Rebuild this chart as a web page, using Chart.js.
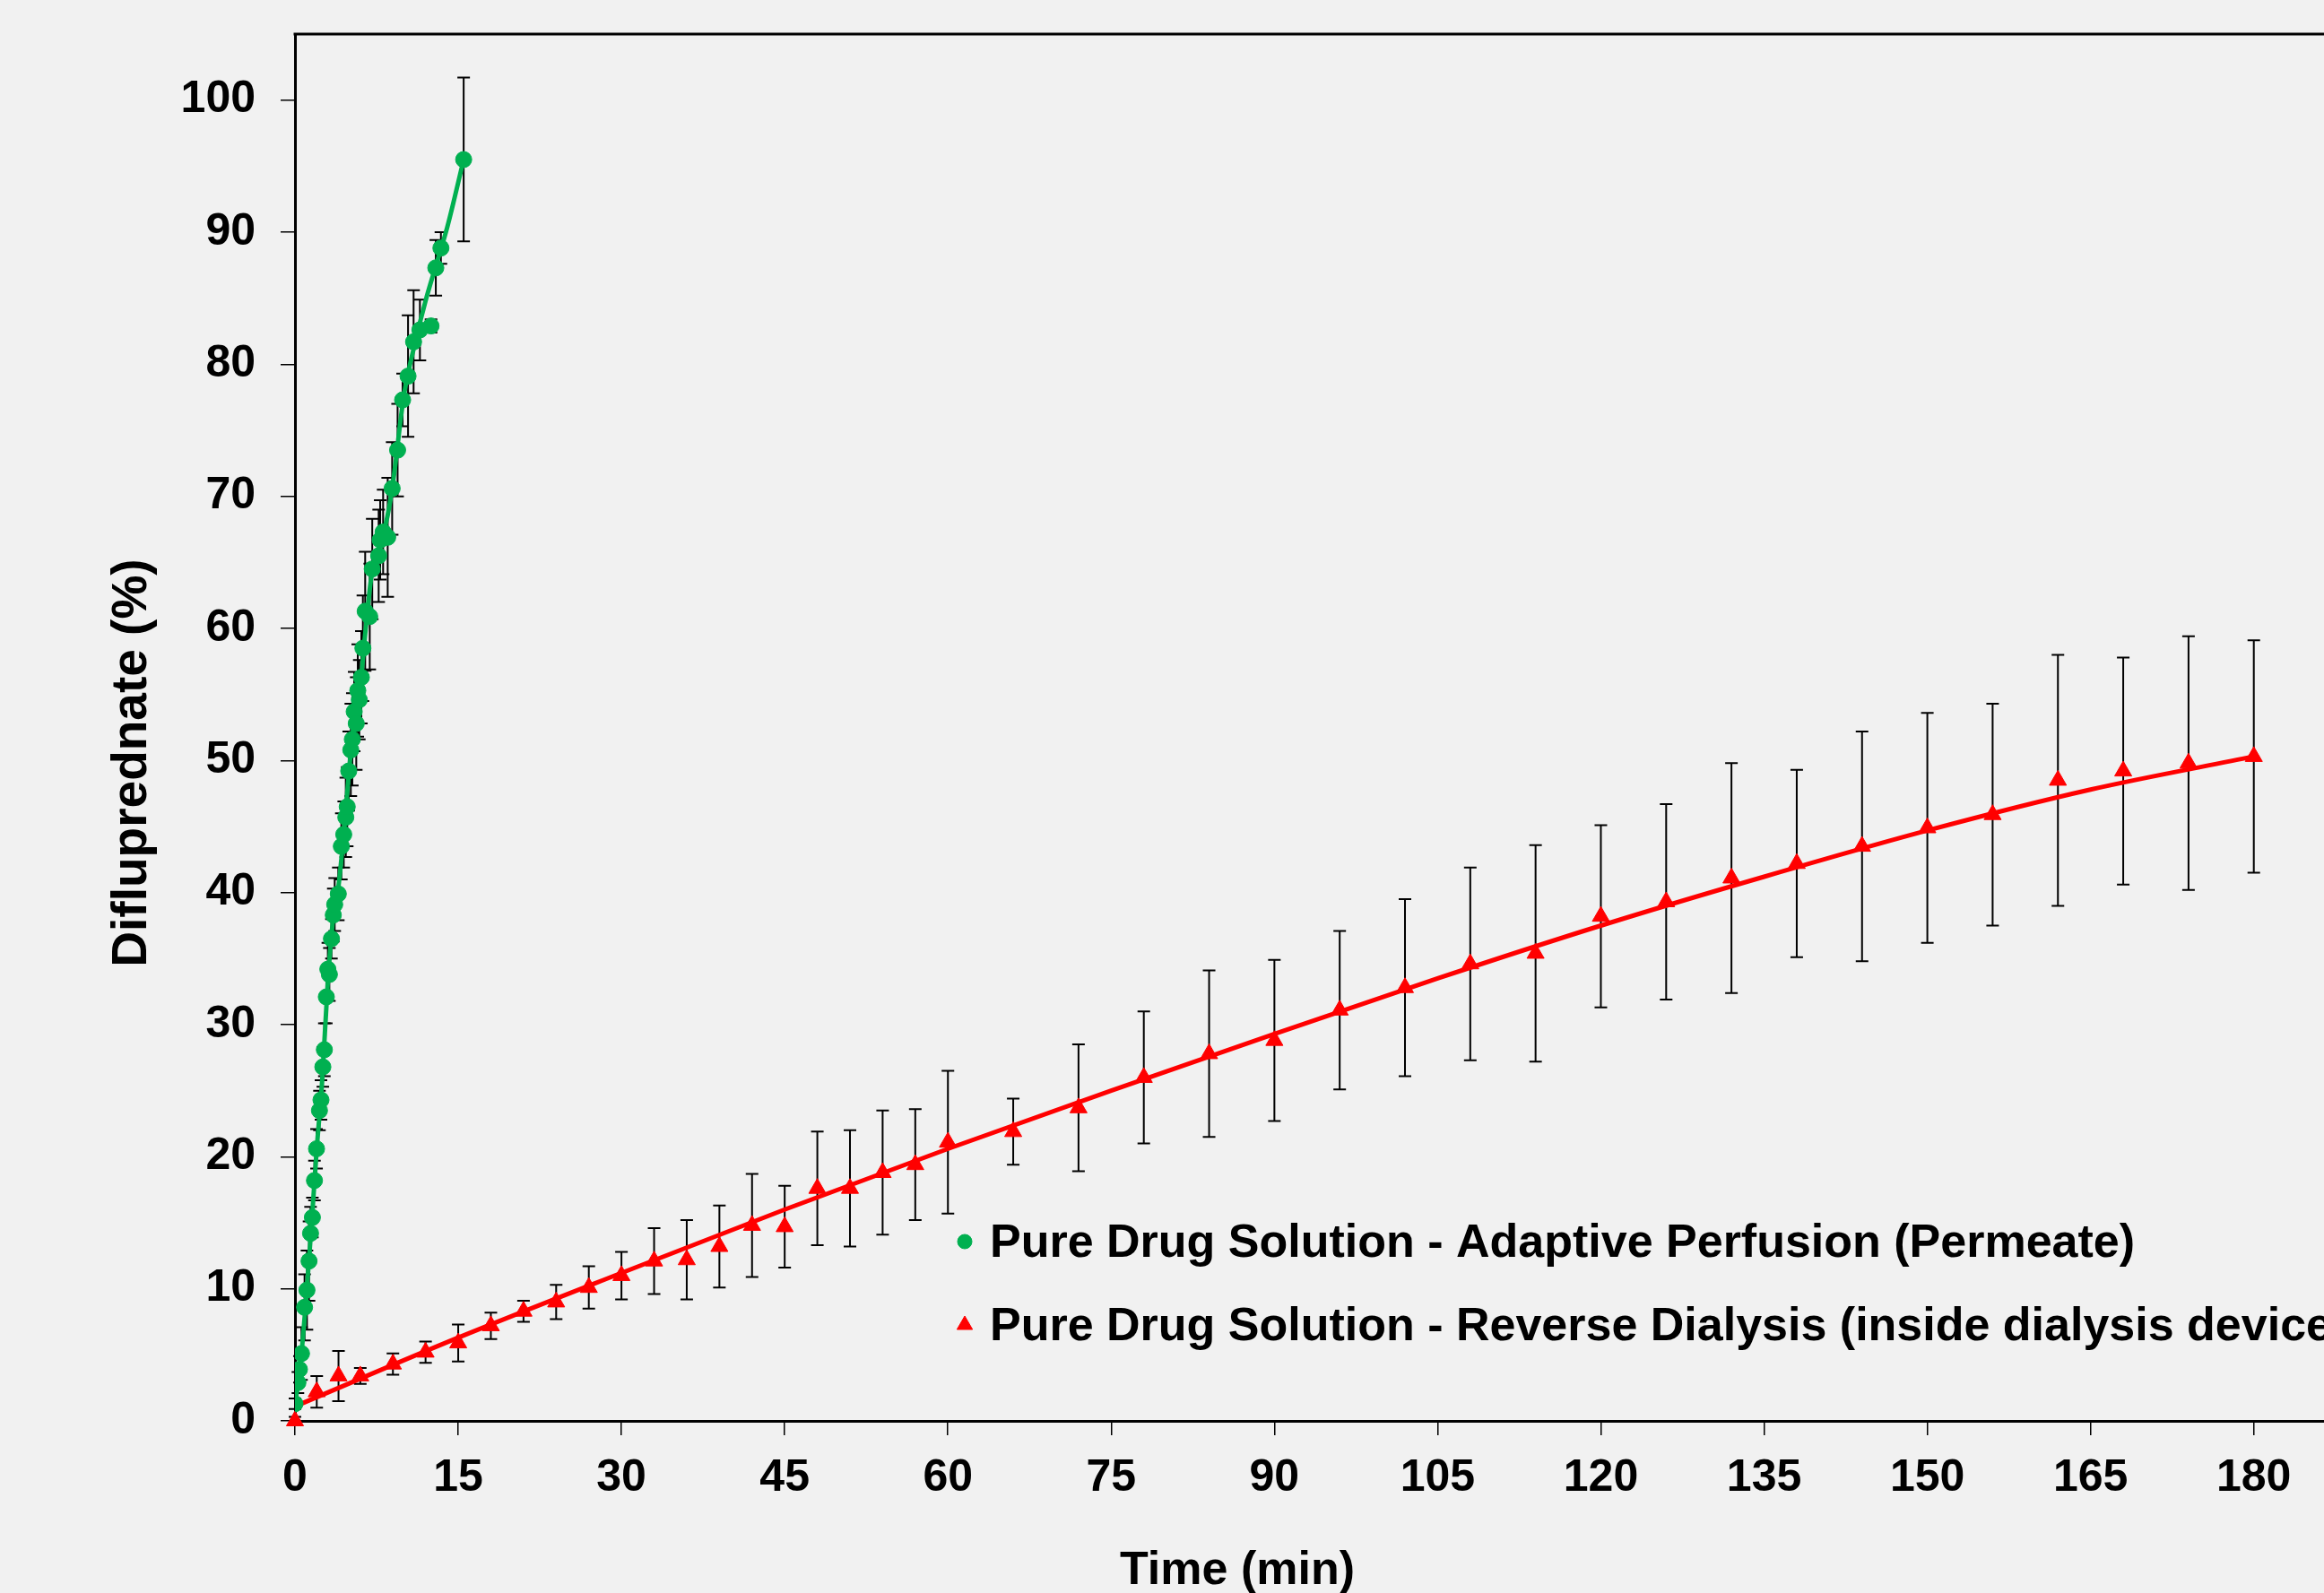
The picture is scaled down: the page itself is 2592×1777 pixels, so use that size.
<!DOCTYPE html>
<html>
<head>
<meta charset="utf-8">
<script src="https://cdn.jsdelivr.net/npm/chart.js@4.4.1/dist/chart.umd.min.js"></script>
<style>
  body { margin: 0; background: #f1f1f1; }
  canvas { display: block; }
</style>
</head>
<body>
<canvas id="releaseChart" width="2592" height="1777"></canvas>
<script>
// tick labels
const xTicks = [0, 15, 30, 45, 60, 75, 90, 105, 120, 135, 150, 165, 180];
const yTicks = [0, 10, 20, 30, 40, 50, 60, 70, 80, 90, 100];

// Adaptive Perfusion (Permeate) - measured points
const permeateTime = [0, 0.27, 0.41, 0.6, 0.88, 1.1, 1.29, 1.43, 1.6, 1.79, 1.98, 2.25, 2.39, 2.56, 2.7,
  2.88, 3.02, 3.16, 3.35, 3.52, 3.65, 3.98, 4.26, 4.48, 4.67, 4.8, 4.94, 5.13, 5.27, 5.44, 5.63,
  5.77, 5.91, 6.1, 6.24, 6.45, 6.87, 7.1, 7.69, 7.83, 8.1, 8.52, 8.93, 9.43, 9.89, 10.39, 10.9,
  11.48, 12.5, 12.94, 13.41, 15.5];
const permeateValue = [1.3, 2.9, 3.9, 5.1, 8.6, 9.9, 12.1, 14.2, 15.4, 18.2, 20.6, 23.5, 24.3, 26.8, 28.1,
  32.1, 34.2, 33.8, 36.5, 38.3, 39.1, 39.9, 43.5, 44.4, 45.7, 46.5, 49.2, 50.8, 51.6, 53.7, 52.8,
  55.3, 54.6, 56.3, 58.5, 61.3, 60.9, 64.5, 65.5, 66.7, 67.3, 66.9, 70.6, 73.5, 77.3, 79.1, 81.7,
  82.6, 82.9, 87.3, 88.8, 95.5];
const permeateSd = [0.4, 0.8, 1.0, 2.0, 2.5, 3.0, 3.0, 2.0, 1.5, 1.5, 1.5, 1.5, 1.5, 1.5, 2.0,
  2.0, 2.0, 2.0, 1.5, 2.0, 2.0, 2.0, 2.5, 2.5, 3.0, 3.0, 3.0, 3.5, 3.5, 3.0, 3.5,
  3.5, 3.0, 3.5, 4.0, 4.5, 4.0, 3.8, 3.5, 3.0, 3.2, 4.5, 3.5, 3.5, 2.0, 4.6, 3.9,
  2.3, 0.5, 2.1, 1.2, 6.2];

// smoothed line through the permeate points
const permeateCurveTime = [0, 0.5, 1, 1.5, 2, 2.5, 3, 3.5, 4, 4.5, 5, 5.5, 6, 6.5, 7, 7.5, 8, 8.5, 9, 10, 11, 12, 13, 14, 15.5];
const permeateCurveValue = [1.2, 4.3, 9.0, 14.6, 20.6, 25.8, 33.0, 38.0, 40.5, 44.6, 49.5, 53.5, 55.7, 60.0, 63.8, 65.6, 66.8, 68.5, 71.0, 77.6, 81.5, 84.8, 87.6, 90.4, 95.5];

// Reverse Dialysis (inside dialysis device) - measured points
const dialysisTime = [0, 2, 4, 6, 9, 12, 15, 18, 21, 24, 27, 30, 33, 36, 39, 42, 45, 48, 51, 54, 57, 60,
  66, 72, 78, 84, 90, 96, 102, 108, 114, 120, 126, 132, 138, 144, 150, 156, 162, 168, 174, 180];
const dialysisValue = [0, 2.2, 3.4, 3.4, 4.3, 5.2, 5.9, 7.2, 8.3, 9.0, 10.1, 11.0, 12.1, 12.2, 13.2, 14.8, 14.7, 17.6, 17.6, 18.8, 19.4, 21.1,
  21.9, 23.7, 26.0, 27.8, 28.8, 31.1, 32.8, 34.6, 35.4, 38.2, 39.3, 41.1, 42.2, 43.5, 44.9, 45.9, 48.5, 49.2, 49.8, 50.3];
const dialysisSd = [0.3, 1.2, 1.9, 0.6, 0.8, 0.8, 1.4, 1.0, 0.8, 1.3, 1.6, 1.8, 2.5, 3.0, 3.1, 3.9, 3.1, 4.3, 4.4, 4.7, 4.2, 5.4,
  2.5, 4.8, 5.0, 6.3, 6.1, 6.0, 6.7, 7.3, 8.2, 6.9, 7.4, 8.7, 7.1, 8.7, 8.7, 8.4, 9.5, 8.6, 9.6, 8.8];

// smoothed line through the dialysis points
const dialysisCurveTime = [0, 15, 30, 45, 60, 75, 90, 105, 120, 135, 150, 165, 180];
const dialysisCurveValue = [1.1, 6.3, 11.2, 16.0, 20.6, 25.0, 29.3, 33.5, 37.5, 41.2, 44.7, 47.8, 50.3];

const seriesLabels = [
  'Pure Drug Solution - Adaptive Perfusion (Permeate)',
  'Pure Drug Solution - Reverse Dialysis (inside dialysis device)'
];

const green = '#00B050';
const red = '#FF0000';
const fontFamily = '"Liberation Sans", Arial, sans-serif';

function toPoints(xs, ys) {
  return xs.map((x, i) => ({ x: x, y: ys[i] }));
}

// vertical error bars with caps, drawn under the markers
const errorBars = {
  id: 'errorBars',
  beforeDatasetsDraw(chart) {
    const ctx = chart.ctx;
    const xs = chart.scales.x;
    const ys = chart.scales.y;
    const sets = [
      [permeateTime, permeateValue, permeateSd],
      [dialysisTime, dialysisValue, dialysisSd]
    ];
    ctx.save();
    ctx.strokeStyle = '#000';
    ctx.lineWidth = 2;
    sets.forEach(([t, v, sd]) => {
      t.forEach((time, i) => {
        const px = xs.getPixelForValue(time);
        const top = ys.getPixelForValue(v[i] + sd[i]);
        const bot = ys.getPixelForValue(v[i] - sd[i]);
        ctx.beginPath();
        ctx.moveTo(px, top);
        ctx.lineTo(px, bot);
        ctx.moveTo(px - 7, top);
        ctx.lineTo(px + 7, top);
        ctx.moveTo(px - 7, bot);
        ctx.lineTo(px + 7, bot);
        ctx.stroke();
      });
    });
    ctx.restore();
  }
};

// background, top border, axis titles and the in-plot legend
const decorations = {
  id: 'decorations',
  beforeDraw(chart) {
    const ctx = chart.ctx;
    ctx.save();
    ctx.fillStyle = '#f1f1f1';
    ctx.fillRect(0, 0, chart.width, chart.height);
    ctx.restore();
  },
  afterDraw(chart) {
    const ctx = chart.ctx;
    const area = chart.chartArea;
    ctx.save();
    ctx.strokeStyle = '#000';
    ctx.lineWidth = 3;
    ctx.beginPath();
    ctx.moveTo(area.left - 1.5, area.top);
    ctx.lineTo(area.right, area.top);
    ctx.stroke();

    ctx.fillStyle = '#000';
    ctx.font = 'bold 52px ' + fontFamily;
    ctx.textAlign = 'center';
    ctx.textBaseline = 'alphabetic';
    ctx.fillText('Time (min)', 1380, 1767);

    ctx.save();
    ctx.translate(163, 851);
    ctx.rotate(-Math.PI / 2);
    ctx.font = 'bold 55px ' + fontFamily;
    ctx.fillText('Difluprednate (%)', 0, 0);
    ctx.restore();

    // legend
    const markers = [
      { style: 'circle', radius: 8, color: green, y: 1385, base: 1402 },
      { style: 'triangle', radius: 10, color: red, y: 1478, base: 1495 }
    ];
    ctx.font = 'bold 52px ' + fontFamily;
    ctx.textAlign = 'left';
    markers.forEach((m, i) => {
      ctx.fillStyle = m.color;
      ctx.strokeStyle = m.color;
      ctx.lineWidth = 1;
      Chart.helpers.drawPoint(ctx, { pointStyle: m.style, radius: m.radius, rotation: 0, borderWidth: 1 }, 1076, m.y);
      ctx.fillStyle = '#000';
      ctx.fillText(seriesLabels[i], 1104, m.base);
    });
    ctx.restore();
  }
};

// keep the plot area exactly where the figure has it
function noEdgePadding(scale) {
  scale.paddingTop = 0;
  scale.paddingBottom = 0;
  scale.paddingLeft = 0;
  scale.paddingRight = 0;
}

const ctx = document.getElementById('releaseChart').getContext('2d');

new Chart(ctx, {
  type: 'scatter',
  data: {
    datasets: [
      {
        label: seriesLabels[0],
        data: toPoints(permeateTime, permeateValue),
        pointStyle: 'circle',
        pointRadius: 9,
        backgroundColor: green,
        borderColor: green,
        borderWidth: 1,
        order: 1
      },
      {
        label: seriesLabels[1],
        data: toPoints(dialysisTime, dialysisValue),
        pointStyle: 'triangle',
        pointRadius: 11,
        backgroundColor: red,
        borderColor: red,
        borderWidth: 1,
        clip: false,
        order: 2
      },
      {
        label: 'permeate fit',
        type: 'line',
        data: toPoints(permeateCurveTime, permeateCurveValue),
        borderColor: green,
        borderWidth: 5,
        pointRadius: 0,
        cubicInterpolationMode: 'monotone',
        fill: false,
        order: 3
      },
      {
        label: 'dialysis fit',
        type: 'line',
        data: toPoints(dialysisCurveTime, dialysisCurveValue),
        borderColor: red,
        borderWidth: 5,
        pointRadius: 0,
        cubicInterpolationMode: 'monotone',
        fill: false,
        order: 4
      }
    ]
  },
  options: {
    responsive: false,
    animation: false,
    layout: { autoPadding: false, padding: { top: 38, left: 0, right: 0, bottom: 0 } },
    plugins: {
      legend: { display: false },
      tooltip: { enabled: false }
    },
    scales: {
      x: {
        type: 'linear',
        min: 0,
        max: 186.45,
        afterBuildTicks: (scale) => { scale.ticks = xTicks.map(v => ({ value: v })); },
        afterFit: (scale) => { scale.height = 192; noEdgePadding(scale); },
        border: { display: true, color: '#000', width: 3 },
        grid: { drawOnChartArea: false, drawTicks: true, tickLength: 16, color: '#000', lineWidth: 1.5 },
        ticks: {
          color: '#000',
          padding: 18,
          maxRotation: 0,
          autoSkip: false,
          font: { family: fontFamily, size: 50, weight: 'bold' }
        }
      },
      y: {
        type: 'linear',
        min: 0,
        max: 105,
        afterBuildTicks: (scale) => { scale.ticks = yTicks.map(v => ({ value: v })); },
        afterFit: (scale) => { scale.width = 329; noEdgePadding(scale); },
        border: { display: true, color: '#000', width: 3 },
        grid: { drawOnChartArea: false, drawTicks: true, tickLength: 16, color: '#000', lineWidth: 1.5 },
        ticks: {
          color: '#000',
          padding: 28,
          autoSkip: false,
          font: { family: fontFamily, size: 50, weight: 'bold' }
        }
      }
    }
  },
  plugins: [errorBars, decorations]
});
</script>
</body>
</html>
